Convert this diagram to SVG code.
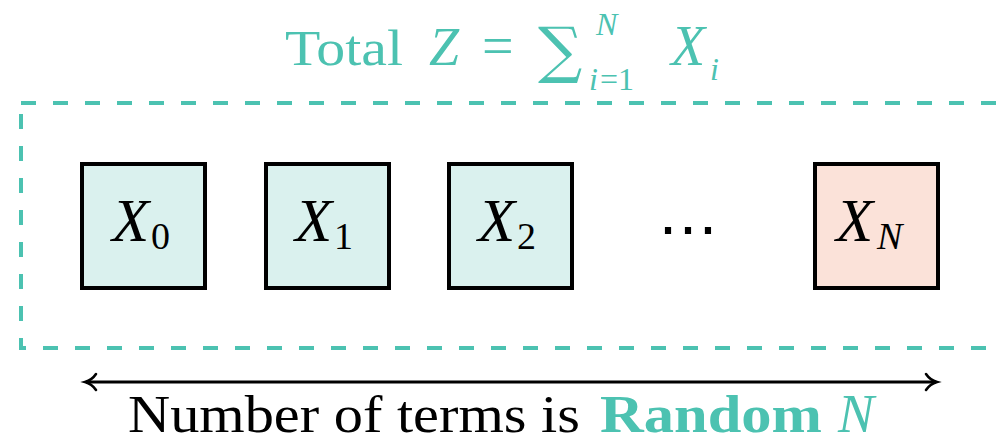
<svg xmlns="http://www.w3.org/2000/svg" width="996" height="445" viewBox="0 0 996 445">
<style>
.t{font-family:"Liberation Serif","DejaVu Serif",serif;}
.i{font-style:italic;}
.teal{fill:#4CC2B1;}
.box{stroke:#000;stroke-width:4;}
.x{fill:#DAF1EE;}
.xn{fill:#FBE2D9;}
.lab{font-size:61px;font-style:italic;}
.sub{font-size:38px;}
</style>
<defs>
<marker id="ah" viewBox="0 0 20 20" refX="14" refY="10" markerWidth="20" markerHeight="20" markerUnits="userSpaceOnUse" orient="auto-start-reverse">
<path d="M4,2 Q8,8 15,10 Q8,12 4,18" fill="none" stroke="#000" stroke-width="2.6" stroke-linecap="round"/>
</marker>
</defs>
<rect width="996" height="445" fill="#fff"/>
<g id="title" class="t teal">
<text x="285" y="65" font-size="50" textLength="118" lengthAdjust="spacingAndGlyphs">Total</text>
<text x="429" y="65" font-size="54" class="i">Z</text>
<text x="482" y="65" font-size="56">=</text>
<text x="538" y="71" font-size="62" font-family="DejaVu Serif">∑</text>
<text x="596" y="35" font-size="32" class="i">N</text>
<text x="589" y="90" font-size="32" class="i">i</text>
<text x="600" y="90" font-size="32">=1</text>
<text x="671" y="65" font-size="56" class="i">X</text>
<text x="710" y="80" font-size="32" class="i">i</text>
</g>
<g id="container">
<rect x="21" y="103" width="1000" height="245" fill="none" stroke="#4CC2B1" stroke-width="4" stroke-dasharray="15 17"/>
</g>
<g id="x0" class="t">
<rect class="box x" x="82" y="164" width="123" height="124"/>
<text x="112" y="241" class="lab">X</text>
<text x="151" y="249" class="sub">0</text>
</g>
<g id="x1" class="t">
<rect class="box x" x="266" y="164" width="123" height="124"/>
<text x="295" y="241" class="lab">X</text>
<text x="334" y="249" class="sub">1</text>
</g>
<g id="x2" class="t">
<rect class="box x" x="449" y="164" width="123" height="124"/>
<text x="478" y="241" class="lab">X</text>
<text x="517" y="249" class="sub">2</text>
</g>
<g id="dots" class="t">
<text x="688" y="250" font-size="60" text-anchor="middle">⋯</text>
</g>
<g id="xn" class="t">
<rect class="box xn" x="815" y="164" width="123" height="124"/>
<text x="836" y="241" class="lab">X</text>
<text x="877" y="249" class="sub i">N</text>
</g>
<g id="connectors">
<line x1="86" y1="382" x2="936" y2="382" stroke="#000" stroke-width="3" marker-start="url(#ah)" marker-end="url(#ah)"/>
</g>
<g id="caption" class="t">
<text x="128" y="432" font-size="52" textLength="452" lengthAdjust="spacingAndGlyphs">Number of terms is</text>
<text x="600" y="432" font-size="52" font-weight="bold" class="teal" textLength="222" lengthAdjust="spacingAndGlyphs">Random</text>
<text x="838" y="432" font-size="54" class="i teal">N</text>
</g>
</svg>
